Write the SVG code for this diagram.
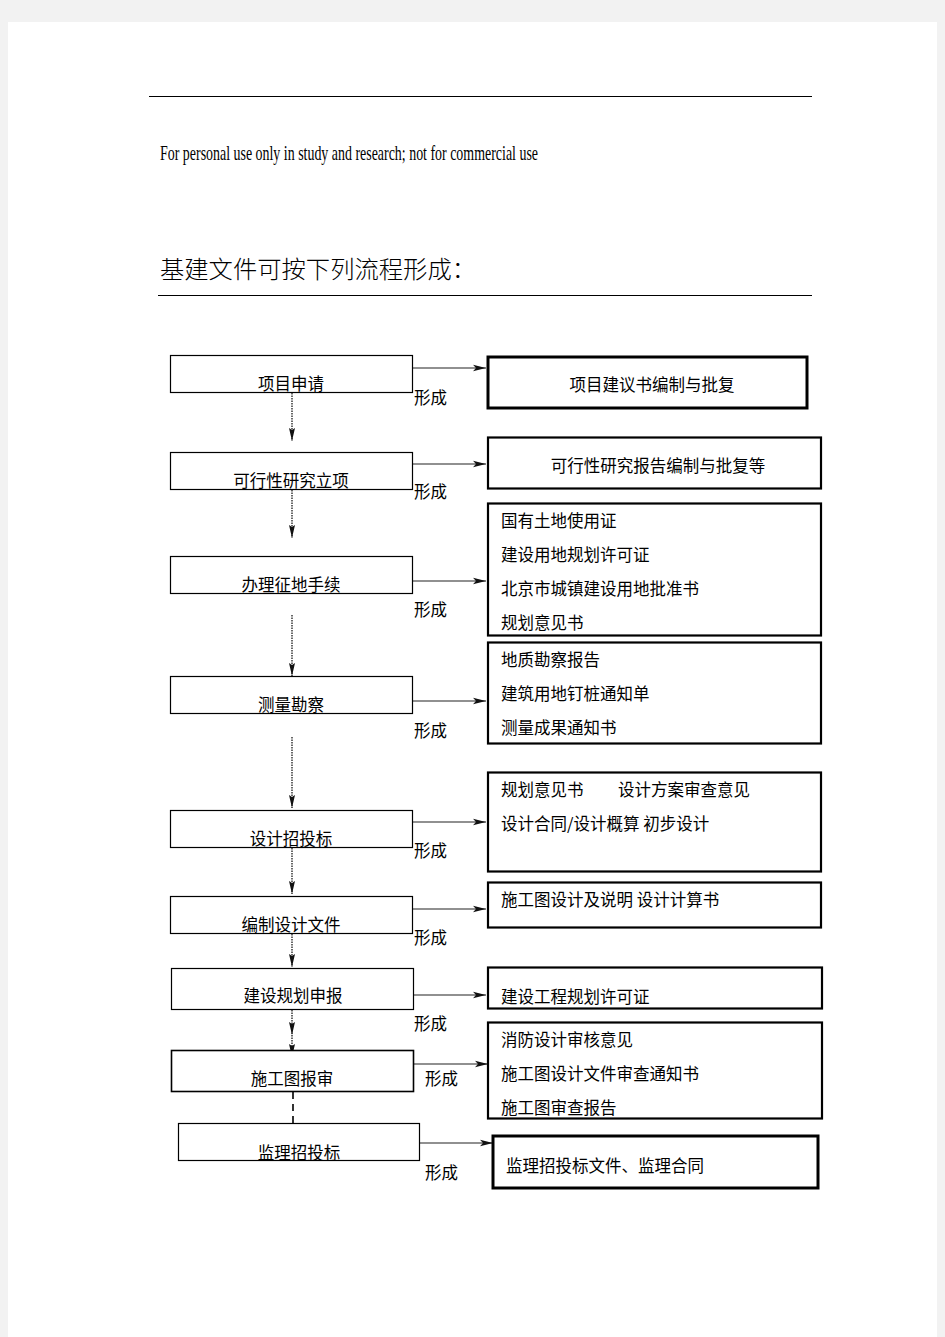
<svg xmlns="http://www.w3.org/2000/svg" width="945" height="1337" viewBox="0 0 945 1337">
<style>
.lb{fill:#fff;stroke:#000;stroke-width:1.2}
.rb{fill:#fff;stroke:#000;stroke-width:2.2}
.rbt{fill:#fff;stroke:#000;stroke-width:3}
.t{font-family:"Noto Sans CJK SC","Noto Sans",sans-serif;font-size:16.5px;fill:#000}
.c{text-anchor:middle}
.h{stroke:#222;stroke-width:1.2;fill:none}
.v{stroke:#444;stroke-width:1.6;stroke-dasharray:1.5 1;fill:none}
.d{stroke:#000;stroke-width:1.6;stroke-dasharray:7 5;fill:none}
.rule{stroke:#000;stroke-width:1.2}
</style>
<defs>
<marker id="ah" markerWidth="14" markerHeight="8" refX="13" refY="4" orient="auto" markerUnits="userSpaceOnUse">
<path d="M0,0.8 L13,4 L0,7.2 L3,4 Z" fill="#111"/>
</marker>
<marker id="av" markerWidth="14" markerHeight="8" refX="13" refY="4" orient="auto" markerUnits="userSpaceOnUse">
<path d="M0,1 L13,4 L0,7 L2,4 Z" fill="#111"/>
</marker>
</defs>
<rect x="0" y="0" width="945" height="1337" fill="#f2f2f2"/>
<rect x="8" y="22" width="929" height="1315" fill="#ffffff"/>
<line class="rule" x1="149" y1="96.5" x2="812" y2="96.5"/>
<text x="160" y="160" font-family="Liberation Serif,serif" font-size="21" textLength="378" lengthAdjust="spacingAndGlyphs">For personal use only in study and research; not for commercial use</text>
<text x="160" y="278" font-family="Noto Sans CJK SC,sans-serif" font-size="24" font-weight="300" textLength="316" lengthAdjust="spacingAndGlyphs">基建文件可按下列流程形成：</text>
<line class="rule" x1="158" y1="295.5" x2="812" y2="295.5"/>

<g id="connectors">
<line class="h" x1="412" y1="368" x2="486" y2="368" marker-end="url(#ah)"/>
<line class="h" x1="412" y1="464" x2="486" y2="464" marker-end="url(#ah)"/>
<line class="h" x1="412" y1="581" x2="486" y2="581" marker-end="url(#ah)"/>
<line class="h" x1="412" y1="701" x2="486" y2="701" marker-end="url(#ah)"/>
<line class="h" x1="412" y1="822" x2="486" y2="822" marker-end="url(#ah)"/>
<line class="h" x1="412" y1="909" x2="486" y2="909" marker-end="url(#ah)"/>
<line class="h" x1="413" y1="995" x2="486" y2="995" marker-end="url(#ah)"/>
<line class="h" x1="414" y1="1064" x2="488" y2="1064" marker-end="url(#ah)"/>
<line class="h" x1="419" y1="1143" x2="493" y2="1143" marker-end="url(#ah)"/>
<line class="v" x1="292" y1="393" x2="292" y2="441" marker-end="url(#av)"/>
<line class="v" x1="292" y1="490" x2="292" y2="538" marker-end="url(#av)"/>
<line class="v" x1="292" y1="615" x2="292" y2="676" marker-end="url(#av)"/>
<line class="v" x1="292" y1="737" x2="292" y2="808" marker-end="url(#av)"/>
<line class="v" x1="292" y1="848" x2="292" y2="894" marker-end="url(#av)"/>
<line class="v" x1="292" y1="934" x2="292" y2="967" marker-end="url(#av)"/>
<line class="v" x1="292" y1="1010" x2="292" y2="1035" marker-end="url(#av)"/>
<line class="v" x1="292" y1="1035" x2="292" y2="1057" marker-end="url(#av)"/>
<line class="d" x1="293" y1="1092" x2="293" y2="1132"/>
</g>

<g id="n1"><rect class="lb" x="170.5" y="355.5" width="242" height="37"/><text class="t c" x="291" y="390">项目申请</text></g>
<g id="n2"><rect class="lb" x="170.5" y="452.5" width="242" height="37"/><text class="t c" x="291" y="487">可行性研究立项</text></g>
<g id="n3"><rect class="lb" x="170.5" y="556.5" width="242" height="37"/><text class="t c" x="291" y="591">办理征地手续</text></g>
<g id="n4"><rect class="lb" x="170.5" y="676.5" width="242" height="37"/><text class="t c" x="291" y="711">测量勘察</text></g>
<g id="n5"><rect class="lb" x="170.5" y="810.5" width="242" height="37"/><text class="t c" x="291" y="845">设计招投标</text></g>
<g id="n6"><rect class="lb" x="170.5" y="896.5" width="242" height="37"/><text class="t c" x="291" y="931">编制设计文件</text></g>
<g id="n7"><rect class="lb" x="171.5" y="968.5" width="242" height="41"/><text class="t c" x="293" y="1002">建设规划申报</text></g>
<g id="n8"><rect class="lb" x="171.5" y="1050.5" width="242" height="41" style="stroke-width:1.6"/><text class="t c" x="292" y="1085">施工图报审</text></g>
<g id="n9"><rect class="lb" x="178.5" y="1123.5" width="241" height="37"/><text class="t c" x="299" y="1159">监理招投标</text></g>

<g id="labels">
<text class="t" x="414" y="404">形成</text>
<text class="t" x="414" y="498">形成</text>
<text class="t" x="414" y="616">形成</text>
<text class="t" x="414" y="737">形成</text>
<text class="t" x="414" y="857">形成</text>
<text class="t" x="414" y="944">形成</text>
<text class="t" x="414" y="1030">形成</text>
<text class="t" x="425" y="1085">形成</text>
<text class="t" x="425" y="1179">形成</text>
</g>

<g id="r1"><rect class="rbt" x="488" y="357" width="319" height="51"/><text class="t c" x="652" y="391">项目建议书编制与批复</text></g>
<g id="r2"><rect class="rb" x="488" y="437.5" width="333" height="51"/><text class="t c" x="658" y="472">可行性研究报告编制与批复等</text></g>
<g id="r3"><rect class="rb" x="488" y="503.5" width="333" height="132"/>
<text class="t" x="501" y="527">国有土地使用证</text>
<text class="t" x="501" y="561">建设用地规划许可证</text>
<text class="t" x="501" y="595">北京市城镇建设用地批准书</text>
<text class="t" x="501" y="629">规划意见书</text></g>
<g id="r4"><rect class="rb" x="488" y="642.5" width="333" height="101"/>
<text class="t" x="501" y="666">地质勘察报告</text>
<text class="t" x="501" y="700">建筑用地钉桩通知单</text>
<text class="t" x="501" y="734">测量成果通知书</text></g>
<g id="r5"><rect class="rb" x="488" y="772.5" width="333" height="99"/>
<text class="t" x="501" y="796">规划意见书</text>
<text class="t" x="618" y="796">设计方案审查意见</text>
<text class="t" x="501" y="830">设计合同/设计概算  初步设计</text></g>
<g id="r6"><rect class="rb" x="488" y="882.5" width="333" height="45"/>
<text class="t" x="501" y="906">施工图设计及说明  设计计算书</text></g>
<g id="r7"><rect class="rb" x="488" y="967.5" width="334" height="41"/>
<text class="t" x="501" y="1003">建设工程规划许可证</text></g>
<g id="r8"><rect class="rb" x="488" y="1022.5" width="334" height="96"/>
<text class="t" x="501" y="1046">消防设计审核意见</text>
<text class="t" x="501" y="1080">施工图设计文件审查通知书</text>
<text class="t" x="501" y="1114">施工图审查报告</text></g>
<g id="r9"><rect class="rbt" x="493" y="1136" width="325" height="52"/>
<text class="t" x="506" y="1172">监理招投标文件、监理合同</text></g>
</svg>
